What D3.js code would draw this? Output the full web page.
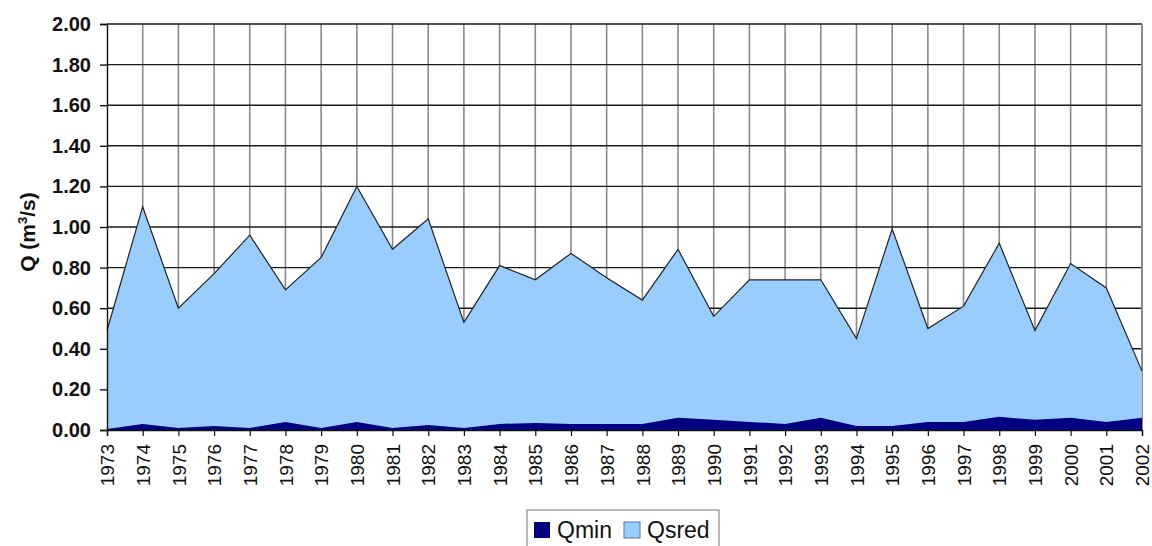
<!DOCTYPE html>
<html>
<head>
<meta charset="utf-8">
<script src="https://cdn.jsdelivr.net/npm/d3@7"></script>
<style>
  body { margin: 0; background: #fff; }
  text { font-family: "Liberation Sans", Arial, sans-serif; }
</style>
</head>
<body>
<script>
// years along the x axis
let years = d3.range(1973, 2003).map(String);

// mean flow (Qsred) and minimum flow (Qmin), m3/s
let qsred = [0.49, 1.10, 0.60, 0.77, 0.96, 0.69, 0.85, 1.20, 0.89, 1.04,
             0.53, 0.81, 0.74, 0.87, 0.75, 0.64, 0.89, 0.56, 0.74, 0.74,
             0.74, 0.45, 0.99, 0.50, 0.61, 0.92, 0.49, 0.82, 0.70, 0.29];
let qmin = [0.005, 0.03, 0.01, 0.02, 0.01, 0.04, 0.01, 0.04, 0.01, 0.025,
            0.01, 0.03, 0.035, 0.03, 0.03, 0.03, 0.06, 0.05, 0.04, 0.03,
            0.06, 0.02, 0.02, 0.04, 0.04, 0.065, 0.05, 0.06, 0.04, 0.06];

let yTicks = [0, 0.2, 0.4, 0.6, 0.8, 1.0, 1.2, 1.4, 1.6, 1.8, 2.0];

let w = 1152, h = 546;
let margin = {top: 24, right: 10, bottom: 116, left: 107};
let width = 1142 - margin.left, height = 430 - margin.top;

let svg = d3.select("body").append("svg")
  .attr("width", w).attr("height", h);
let g = svg.append("g")
  .attr("transform", "translate(" + margin.left + "," + margin.top + ")");

let xScale = d3.scalePoint().domain(years).range([0, width]);
let yScale = d3.scaleLinear().domain([0, 2]).range([height, 0]);

// vertical grid (grey)
g.append("g").selectAll("line").data(years.slice(1)).enter().append("line")
  .attr("x1", d => xScale(d)).attr("x2", d => xScale(d))
  .attr("y1", 0).attr("y2", height)
  .attr("stroke", "#8a8a8a").attr("stroke-width", 1.6);

// horizontal grid (black)
g.append("g").selectAll("line").data(yTicks.slice(1)).enter().append("line")
  .attr("x1", 0).attr("x2", width)
  .attr("y1", d => yScale(d)).attr("y2", d => yScale(d))
  .attr("stroke", "#1a1a1a").attr("stroke-width", 1.4);

// right border
g.append("line")
  .attr("x1", width).attr("x2", width).attr("y1", 0).attr("y2", height)
  .attr("stroke", "#8a8a8a").attr("stroke-width", 1.8);

let area = d3.area()
  .x((d, i) => xScale(years[i]))
  .y0(yScale(0))
  .y1(d => yScale(d));

let line = d3.line()
  .x((d, i) => xScale(years[i]))
  .y(d => yScale(d));

g.append("path").datum(qsred)
  .attr("d", area).attr("fill", "#99ccff");
g.append("path").datum(qsred)
  .attr("d", line).attr("fill", "none")
  .attr("stroke", "#222").attr("stroke-width", 1.2);

g.append("path").datum(qmin)
  .attr("d", area).attr("fill", "#000080");

// y axis
let yAxis = g.append("g")
  .call(d3.axisLeft(yScale).tickValues(yTicks).tickFormat(d3.format(".2f"))
    .tickSize(7).tickPadding(9));
yAxis.select(".domain").attr("stroke", "#111").attr("stroke-width", 1.4);
yAxis.selectAll(".tick line").attr("stroke", "#111").attr("stroke-width", 1.4);
yAxis.selectAll(".tick text")
  .attr("font-size", "20px").attr("font-weight", "bold")
  .attr("font-family", "Liberation Sans, Arial, sans-serif").attr("fill", "#111");

// x axis
let xAxis = g.append("g")
  .attr("transform", "translate(0," + height + ")")
  .call(d3.axisBottom(xScale).tickSize(6).tickPadding(0));
xAxis.select(".domain").attr("stroke", "#111").attr("stroke-width", 1.4);
xAxis.selectAll(".tick line").attr("stroke", "#111").attr("stroke-width", 1.2);
xAxis.selectAll(".tick text")
  .attr("font-size", "19px")
  .attr("font-family", "Liberation Sans, Arial, sans-serif").attr("fill", "#111")
  .attr("transform", "rotate(-90)")
  .attr("text-anchor", "end")
  .attr("x", -14).attr("y", 0).attr("dy", "0.35em");

// y axis title
let title = svg.append("text")
  .attr("transform", "translate(35,232) rotate(-90)")
  .attr("text-anchor", "middle")
  .attr("font-size", "21px").attr("font-weight", "bold").attr("fill", "#111");
title.append("tspan").text("Q (m");
title.append("tspan").text("3").attr("font-size", "13px").attr("dy", "-8");
title.append("tspan").text("/s)").attr("dy", "8");

// legend
let legend = svg.append("g").attr("transform", "translate(527,510)");
legend.append("rect")
  .attr("width", 192).attr("height", 42)
  .attr("fill", "#fff").attr("stroke", "#888").attr("stroke-width", 1.2);
let items = [{name: "Qmin", color: "#000080"}, {name: "Qsred", color: "#99ccff"}];
let offsets = [7, 97];
items.forEach(function (it, i) {
  legend.append("rect")
    .attr("x", offsets[i]).attr("y", 12).attr("width", 16).attr("height", 16)
    .attr("fill", it.color).attr("stroke", i === 1 ? "#5577aa" : "none");
  legend.append("text")
    .attr("x", offsets[i] + 23).attr("y", 28)
    .attr("font-size", "23px").attr("fill", "#111")
    .text(it.name);
});
</script>
</body>
</html>
